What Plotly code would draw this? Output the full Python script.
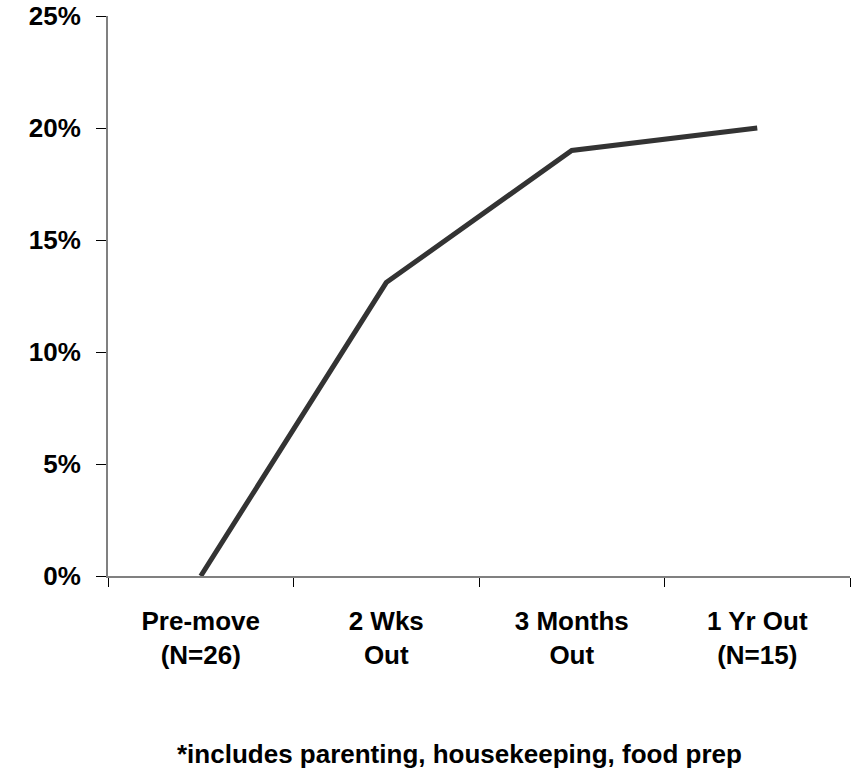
import plotly.graph_objects as go

# data
categories = ["Pre-move<br>(N=26)", "2 Wks<br>Out", "3 Months<br>Out", "1 Yr Out<br>(N=15)"]
percent_values = [0.0, 13.1, 19.0, 20.0]
y_ticks = [0, 5, 10, 15, 20, 25]
footnote = "*includes parenting, housekeeping, food prep"

FONT = "Liberation Sans, Arial, sans-serif"

fig = go.Figure(go.Scatter(
    x=categories,
    y=percent_values,
    mode="lines",
    line=dict(color="#333333", width=5),
    hoverinfo="skip",
))

fig.update_layout(
    width=856,
    height=773,
    margin=dict(l=108, r=6, t=16, b=197),
    paper_bgcolor="white",
    plot_bgcolor="white",
    showlegend=False,
    font=dict(family=FONT, size=26, color="black", weight="bold"),
    xaxis=dict(
        type="category",
        range=[-0.5, len(categories) - 0.5],
        tickson="boundaries",
        ticks="outside",
        ticklen=9,
        tickwidth=1,
        tickcolor="black",
        showline=True,
        linecolor="#808080",
        linewidth=2,
        showgrid=False,
        zeroline=False,
        tickangle=0,
        automargin=False,
        ticklabelstandoff=21,
        tickfont=dict(family=FONT, size=26, color="black", weight="bold"),
    ),
    yaxis=dict(
        range=[0, 25],
        tickvals=y_ticks,
        ticktext=[f"{v}%" for v in y_ticks],
        ticks="outside",
        ticklen=10,
        tickwidth=1,
        tickcolor="black",
        showline=True,
        linecolor="#808080",
        linewidth=2,
        showgrid=False,
        zeroline=False,
        automargin=False,
        ticklabeloverflow="allow",
        ticklabelstandoff=10,
        tickfont=dict(family=FONT, size=26, color="black", weight="bold"),
    ),
    annotations=[dict(
        text=footnote,
        xref="paper", yref="paper",
        x=0.474, y=-0.318,
        xanchor="center", yanchor="middle",
        showarrow=False,
        font=dict(family=FONT, size=26, color="black", weight="bold"),
    )],
)

# drop the page's default 8px body margin so the figure fills the window
fig.write_html(
    "out.html",
    config={"displayModeBar": False},
    post_script="document.body.style.margin='0';",
)
